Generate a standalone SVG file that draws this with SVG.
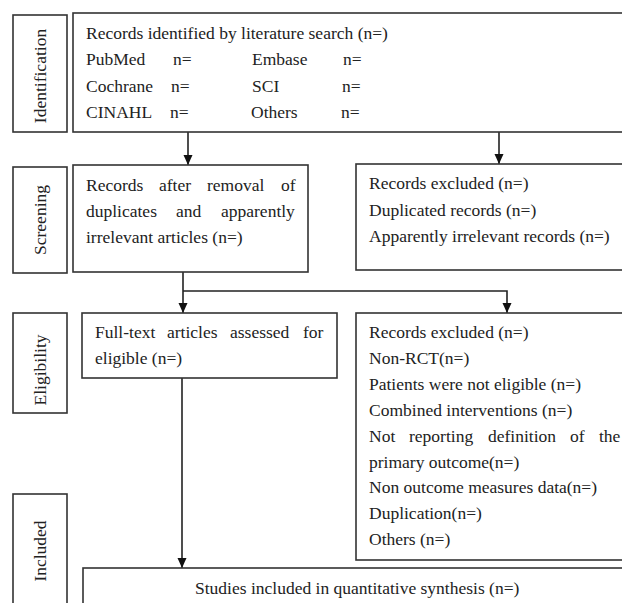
<svg xmlns="http://www.w3.org/2000/svg" width="622" height="603" viewBox="0 0 622 603">
<style>
.box{fill:#fff;stroke:#333;stroke-width:1.6}
.t{font-family:"Liberation Serif","Times New Roman",serif;font-size:17.5px;fill:#222}
.lbl{font-family:"Liberation Serif","Times New Roman",serif;font-size:17.5px;fill:#222;text-anchor:middle}
.c{fill:none;stroke:#222;stroke-width:1.6}
</style>
<defs>
<marker id="ah" markerUnits="userSpaceOnUse" markerWidth="10" markerHeight="10" refX="10" refY="4.5" orient="auto">
<path d="M0,0 L10,4.5 L0,9 Z" fill="#111"/>
</marker>
</defs>
<rect width="622" height="603" fill="#fff"/>
<g id="stage-identification">
<rect class="box" x="13" y="15" width="54" height="117"/>
<text class="lbl" transform="translate(46,76) rotate(-90)">Identification</text>
</g>
<g id="stage-screening">
<rect class="box" x="13" y="167" width="54" height="106"/>
<text class="lbl" transform="translate(46,220) rotate(-90)">Screening</text>
</g>
<g id="stage-eligibility">
<rect class="box" x="13" y="313" width="54" height="100"/>
<text class="lbl" transform="translate(46,370) rotate(-90)">Eligibility</text>
</g>
<g id="stage-included">
<rect class="box" x="13" y="494" width="54" height="130"/>
<text class="lbl" transform="translate(46,551) rotate(-90)">Included</text>
</g>
<g id="connectors">
<line class="c" x1="188" y1="132" x2="188" y2="165" marker-end="url(#ah)"/>
<line class="c" x1="499" y1="132" x2="499" y2="164" marker-end="url(#ah)"/>
<line class="c" x1="183" y1="272" x2="183" y2="313" marker-end="url(#ah)"/>
<polyline class="c" points="183,291 507,291 507,313" marker-end="url(#ah)"/>
<line class="c" x1="182" y1="378" x2="182" y2="568" marker-end="url(#ah)"/>
</g>
<g id="node-search">
<rect class="box" x="73" y="13" width="570" height="119"/>
<text class="t" x="86" y="39">Records identified by literature search (n=)</text>
<text class="t" x="86" y="65">PubMed</text><text class="t" x="173" y="65">n=</text><text class="t" x="252" y="65">Embase</text><text class="t" x="343" y="65">n=</text>
<text class="t" x="86" y="91.5">Cochrane</text><text class="t" x="171" y="91.5">n=</text><text class="t" x="252" y="91.5">SCI</text><text class="t" x="342" y="91.5">n=</text>
<text class="t" x="86" y="117.5">CINAHL</text><text class="t" x="170" y="117.5">n=</text><text class="t" x="251" y="117.5">Others</text><text class="t" x="341" y="117.5">n=</text>
</g>
<g id="node-screened">
<rect class="box" x="73" y="165" width="235" height="107"/>
<text class="t" y="191"><tspan x="86">Records</tspan><tspan x="159">after</tspan><tspan x="207">removal</tspan><tspan x="281">of</tspan></text>
<text class="t" y="217"><tspan x="86">duplicates</tspan><tspan x="176">and</tspan><tspan x="221">apparently</tspan></text>
<text class="t" x="86" y="243">irrelevant articles (n=)</text>
</g>
<g id="node-excluded1">
<rect class="box" x="356" y="164" width="290" height="106"/>
<text class="t" x="369" y="189">Records excluded (n=)</text>
<text class="t" x="369" y="216">Duplicated records (n=)</text>
<text class="t" x="369" y="242">Apparently irrelevant records (n=)</text>
</g>
<g id="node-fulltext">
<rect class="box" x="82" y="313" width="255" height="65"/>
<text class="t" y="338"><tspan x="95">Full-text</tspan><tspan x="167">articles</tspan><tspan x="230">assessed</tspan><tspan x="303">for</tspan></text>
<text class="t" x="95" y="364">eligible (n=)</text>
</g>
<g id="node-excluded2">
<rect class="box" x="356" y="313" width="290" height="247"/>
<text class="t" x="369" y="338">Records excluded (n=)</text>
<text class="t" x="369" y="364">Non-RCT(n=)</text>
<text class="t" x="369" y="390">Patients were not eligible (n=)</text>
<text class="t" x="369" y="416">Combined interventions (n=)</text>
<text class="t" y="442"><tspan x="369">Not</tspan><tspan x="409">reporting</tspan><tspan x="488">definition</tspan><tspan x="570">of</tspan><tspan x="599">the</tspan></text>
<text class="t" x="369" y="468">primary outcome(n=)</text>
<text class="t" x="369" y="493">Non outcome measures data(n=)</text>
<text class="t" x="369" y="519">Duplication(n=)</text>
<text class="t" x="369" y="545">Others (n=)</text>
</g>
<g id="node-included">
<rect class="box" x="83" y="568" width="560" height="60"/>
<text class="t" x="195" y="594">Studies included in quantitative synthesis (n=)</text>
</g>
</svg>
